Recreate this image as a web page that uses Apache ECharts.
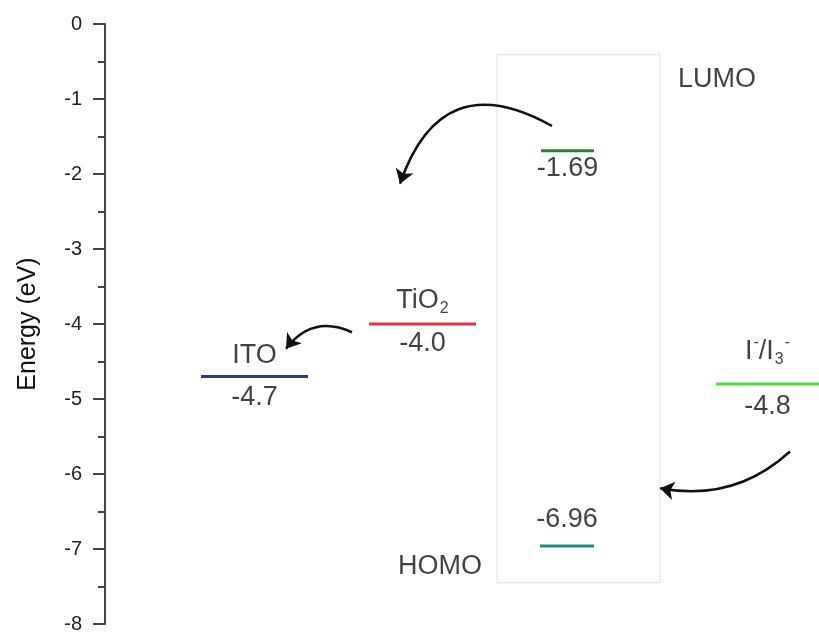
<!DOCTYPE html>
<html>
<head>
<meta charset="utf-8">
<title>Energy levels</title>
<script src="https://cdn.jsdelivr.net/npm/echarts@6/dist/echarts.min.js"></script>
<style>
  html, body { margin: 0; padding: 0; background: #fff; }
  #energyChart { width: 819px; height: 634px; }
</style>
</head>
<body>
<div id="energyChart"></div>
<script>
// energy levels (eV) and their horizontal extent on the (hidden) x axis
const levelNames = ["ITO", "TiO2", "LUMO", "HOMO", "I-/I3-"];
const levelValues = [-4.7, -4.0, -1.69, -6.96, -4.8];
const levelStart = [0.96, 2.64, 4.36, 4.35, 6.11];
const levelEnd = [2.03, 3.71, 4.89, 4.89, 7.14];
const valueText = ["-4.7", "-4.0", "-1.69", "-6.96", "-4.8"];

// y axis ticks
const yMin = -8;
const yMax = 0;
const yStep = 1;

// electron transfer arrows: [fromX, fromY], [toX, toY]
const arrowFrom = [[4.47, -1.36], [2.47, -4.11], [6.85, -5.70]];
const arrowTo = [[2.95, -2.13], [1.81, -4.33], [5.55, -6.19]];
const arrowBend = [-0.6, -0.4, 0.25];

// dye box and its captions
const boxCorners = [[3.92, -0.41], [5.55, -7.45]];
const captionText = ["LUMO", "HOMO"];
const captionPos = [[6.12, -0.74], [3.35, -7.24]];

const levelColors = ["#2b3697", "#e63240", "#208a30", "#1f8a82", "#4fe03f"];
const fontFamily = "'Liberation Sans', Arial, sans-serif";
const textColor = "#111";

const chart = echarts.init(document.getElementById("energyChart"));

const nameRich = {
  base: { fontSize: 27, color: textColor, fontFamily: fontFamily },
  sub: { fontSize: 16, color: textColor, fontFamily: fontFamily, verticalAlign: "bottom", padding: [17, 0, 0, 1] },
  sup: { fontSize: 16, color: textColor, fontFamily: fontFamily, verticalAlign: "top", padding: [0, 0, 12, 1] },
};
const nameLabel = {
  ITO: "{base|ITO}",
  TiO2: "{base|TiO}{sub|2}",
  "I-/I3-": "{base|I}{sup|-}{base|/I}{sub|3}{sup|-}",
};

// one short horizontal line per level
const levelSeries = levelNames.map((name, i) => ({
  name: name,
  type: "line",
  symbol: "none",
  silent: true,
  lineStyle: { color: levelColors[i], width: 3 },
  data: [
    [levelStart[i], levelValues[i]],
    [levelEnd[i], levelValues[i]],
  ],
}));

// text above / below each level
const labelAbove = { ITO: 7, TiO2: 7, "I-/I3-": 16 };
const valueBelow = { ITO: 8, TiO2: 6, LUMO: 4, "I-/I3-": 9 };
const labelPoints = [];
levelNames.forEach((name, i) => {
  const cx = (levelStart[i] + levelEnd[i]) / 2;
  if (nameLabel[name]) {
    labelPoints.push({
      value: [cx, levelValues[i]],
      label: { show: true, position: "top", distance: labelAbove[name], formatter: nameLabel[name], rich: nameRich },
    });
  }
  labelPoints.push({
    value: [cx, levelValues[i]],
    label: {
      show: true,
      position: name === "HOMO" ? "top" : "bottom",
      distance: name === "HOMO" ? 13 : valueBelow[name],
      formatter: valueText[i],
      fontSize: 27,
      color: textColor,
      fontFamily: fontFamily,
    },
  });
});
captionText.forEach((t, i) => {
  labelPoints.push({
    value: captionPos[i],
    label: { show: true, position: "inside", formatter: t, fontSize: 27, color: textColor, fontFamily: fontFamily },
  });
});

const option = {
  animation: false,
  grid: { left: 105, right: 0, top: 24, bottom: 5 },
  xAxis: { type: "value", min: 0, max: 7.14, show: false },
  yAxis: {
    type: "value",
    min: yMin,
    max: yMax,
    interval: yStep,
    name: "Energy (eV)",
    nameLocation: "middle",
    nameRotate: 90,
    nameGap: 64,
    nameTextStyle: { fontSize: 25, color: textColor, fontFamily: fontFamily },
    axisLine: { show: true, lineStyle: { color: "#444", width: 2 } },
    axisTick: { show: true, length: 12, lineStyle: { color: "#444", width: 2 } },
    minorTick: { show: true, splitNumber: 2, length: 7, lineStyle: { color: "#444", width: 2 } },
    splitLine: { show: false },
    axisLabel: { fontSize: 20, color: "#222", margin: 23, fontFamily: fontFamily },
  },
  series: [
    ...levelSeries,
    {
      name: "box",
      type: "line",
      data: [],
      markArea: {
        silent: true,
        itemStyle: { color: "rgba(0,0,0,0)", borderColor: "#c8c8c8", borderWidth: 1, borderType: "dotted" },
        data: [[{ coord: boxCorners[0] }, { coord: boxCorners[1] }]],
      },
    },
    {
      name: "arrows",
      type: "lines",
      coordinateSystem: "cartesian2d",
      silent: true,
      symbol: ["none", "arrow"],
      symbolSize: 14,
      data: arrowFrom.map((p, i) => ({
        coords: [p, arrowTo[i]],
        lineStyle: { curveness: arrowBend[i] },
      })),
      lineStyle: { color: "#111", width: 2.5, opacity: 1 },
    },
    {
      name: "labels",
      type: "scatter",
      symbolSize: 0,
      silent: true,
      data: labelPoints,
    },
  ],
};

chart.setOption(option);
window.addEventListener("resize", () => chart.resize());
</script>
</body>
</html>
